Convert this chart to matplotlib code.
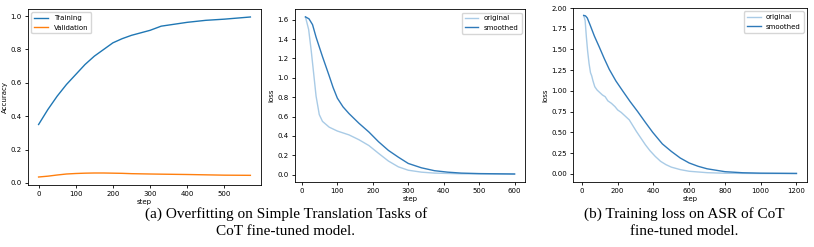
import numpy as np
import matplotlib
matplotlib.use("Agg")
import matplotlib.pyplot as plt

# panel 1: accuracy
acc_step = [0, 25, 50, 75, 100, 125, 150, 175, 200, 225, 250, 300, 330, 400, 450, 500, 570]
acc_train = [0.35, 0.44, 0.52, 0.59, 0.65, 0.71, 0.76, 0.80, 0.84, 0.865, 0.885, 0.915, 0.94, 0.963, 0.975, 0.982, 0.995]
acc_val = [0.035, 0.040, 0.047, 0.053, 0.056, 0.058, 0.059, 0.059, 0.058, 0.057, 0.055, 0.053, 0.052, 0.050, 0.048, 0.046, 0.045]

# panel 2: translation loss
tr_step = [10, 19, 26, 31, 40, 49, 58, 77, 100, 133, 161, 189, 216, 244, 272, 300, 337, 374, 450, 600]
tr_orig = [1.63, 1.50, 1.29, 1.12, 0.81, 0.62, 0.55, 0.49, 0.45, 0.41, 0.36, 0.30, 0.22, 0.14, 0.08, 0.045, 0.025, 0.015, 0.008, 0.004]
sm_step = [10, 20, 30, 40, 58, 77, 88, 100, 116, 133, 161, 189, 216, 244, 272, 300, 337, 374, 411, 450, 500, 600]
tr_smooth = [1.63, 1.61, 1.55, 1.42, 1.22, 1.02, 0.90, 0.79, 0.70, 0.63, 0.53, 0.44, 0.34, 0.25, 0.18, 0.115, 0.07, 0.04, 0.025, 0.015, 0.01, 0.006]

# panel 3: ASR loss
asr_step = [10, 18, 25, 32, 40, 48, 55, 62, 72, 85, 100, 115, 130, 145, 165, 185, 200, 220, 245, 265, 285, 305, 330, 355, 380, 410, 440, 470, 500, 550, 600, 700, 800, 1000, 1200]
asr_orig = [1.91, 1.85, 1.65, 1.48, 1.33, 1.22, 1.18, 1.12, 1.05, 1.01, 0.98, 0.95, 0.93, 0.88, 0.85, 0.81, 0.77, 0.74, 0.69, 0.65, 0.58, 0.51, 0.43, 0.35, 0.28, 0.21, 0.15, 0.11, 0.08, 0.05, 0.03, 0.013, 0.006, 0.003, 0.002]
asr_sm_step = [10, 20, 30, 45, 70, 97, 125, 153, 190, 228, 270, 312, 355, 396, 450, 500, 550, 600, 650, 700, 800, 900, 1000, 1200]
asr_smooth = [1.91, 1.905, 1.88, 1.80, 1.66, 1.53, 1.39, 1.26, 1.12, 1.0, 0.87, 0.75, 0.62, 0.5, 0.36, 0.27, 0.19, 0.13, 0.09, 0.06, 0.025, 0.012, 0.007, 0.004]

light = '#a9cbe6'
dark = '#2f7ab9'

plt.rcParams['font.size'] = 5
plt.rcParams['axes.linewidth'] = 0.6
plt.rcParams['xtick.major.width'] = 0.6
plt.rcParams['ytick.major.width'] = 0.6
plt.rcParams['xtick.major.size'] = 2.5
plt.rcParams['ytick.major.size'] = 2.5
plt.rcParams['xtick.major.pad'] = 2
plt.rcParams['ytick.major.pad'] = 2
fig = plt.figure(figsize=(8.14, 2.47), dpi=100)

ax1 = fig.add_axes([0.0344, 0.251, 0.2862, 0.7126])
ax1.plot(acc_step, acc_train, color='tab:blue', lw=1, label='Training')
ax1.plot(acc_step, acc_val, color='tab:orange', lw=1, label='Validation')
ax1.set_ylabel('Accuracy', labelpad=2)
ax1.set_xlabel('step', labelpad=1)
ax1.set_xticks([0, 100, 200, 300, 400, 500])
ax1.legend(loc='upper left', fontsize=5)

ax2 = fig.add_axes([0.3624, 0.263, 0.2826, 0.7004])
ax2.plot(tr_step, tr_orig, color=light, lw=1, label='original')
ax2.plot(sm_step, tr_smooth, color=dark, lw=1, label='smoothed')
ax2.set_ylabel('loss', labelpad=2)
ax2.set_xlabel('step', labelpad=1)
ax2.set_xticks([0, 100, 200, 300, 400, 500, 600])
ax2.legend(loc='upper right', fontsize=5)

ax3 = fig.add_axes([0.704, 0.263, 0.2875, 0.7046])
ax3.plot(asr_step, asr_orig, color=light, lw=1, label='original')
ax3.plot(asr_sm_step, asr_smooth, color=dark, lw=1, label='smoothed')
ax3.set_ylabel('loss', labelpad=2)
ax3.set_xlabel('step', labelpad=1)
ax3.set_xticks([0, 200, 400, 600, 800, 1000, 1200])
ax3.set_yticks([0, 0.25, 0.5, 0.75, 1.0, 1.25, 1.5, 1.75, 2.0])
ax3.set_ylim(-0.1, 2.0)
ax3.legend(loc='upper right', fontsize=5)

cap = dict(family='Liberation Serif', fontsize=11, ha='center', va='center', linespacing=1.4)
fig.text(0.351, 0.10, '(a) Overfitting on Simple Translation Tasks of\nCoT fine-tuned model.', **cap)
fig.text(0.840, 0.10, '(b) Training loss on ASR of CoT\nfine-tuned model.', **cap)

fig.savefig('out.png', dpi=100)
